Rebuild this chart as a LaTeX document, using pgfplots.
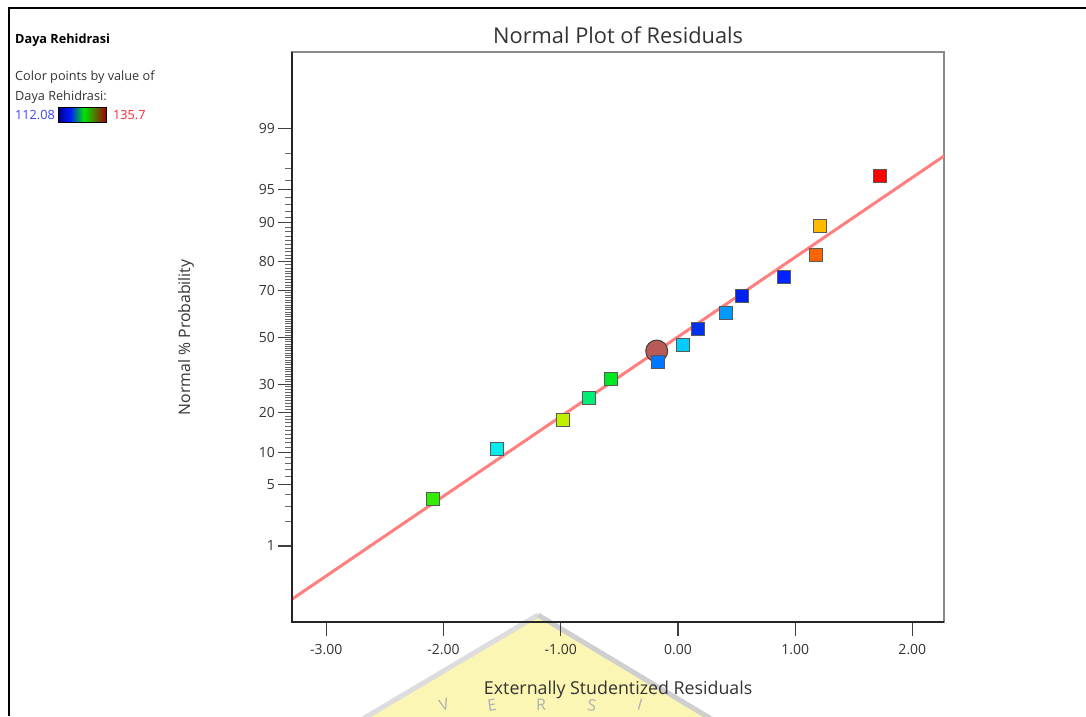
\documentclass[border=0pt]{standalone}
\usepackage{fontspec}
\setmainfont{Open Sans}
\usepackage{pgfplots}
\pgfplotsset{compat=1.18}
\usepackage{pgfplotstable}

\definecolor{txt}{HTML}{333333}
\definecolor{axgray}{HTML}{8A8A8A}
\definecolor{fitline}{HTML}{FF7F7F}
\definecolor{selpt}{HTML}{B85A57}
\definecolor{lowval}{HTML}{3344FF}
\definecolor{highval}{HTML}{FF2233}
\definecolor{wmyellow}{HTML}{FCF6B4}
\definecolor{wmgray}{HTML}{CFCFCF}
% point colours by response value
\definecolor{k0}{RGB}{51,238,0}
\definecolor{k1}{RGB}{0,238,238}
\definecolor{k2}{RGB}{190,240,0}
\definecolor{k3}{RGB}{0,238,119}
\definecolor{k4}{RGB}{0,232,34}
\definecolor{k5}{RGB}{0,119,255}
\definecolor{k6}{RGB}{0,204,255}
\definecolor{k7}{RGB}{0,51,238}
\definecolor{k8}{RGB}{0,153,255}
\definecolor{k9}{RGB}{0,34,238}
\definecolor{k10}{RGB}{0,34,255}
\definecolor{k11}{RGB}{255,102,0}
\definecolor{k12}{RGB}{255,187,0}
\definecolor{k13}{RGB}{255,0,0}

% residuals (x) against normal quantiles of (i-0.5)/14 (z), c = colour class
\pgfplotstableread{
x       z        c
-2.087  -1.8027  k0
-1.546  -1.2419  k1
-0.980  -0.9208  k2
-0.756  -0.6745  k3
-0.573  -0.4637  k4
-0.172  -0.2719  k5
 0.041  -0.0896  k6
 0.174   0.0896  k7
 0.413   0.2719  k8
 0.544   0.4637  k9
 0.908   0.6745  k10
 1.178   0.9208  k11
 1.215   1.2419  k12
 1.724   1.8027  k13
}\resid

\begin{document}
\begin{tikzpicture}
\path[use as bounding box] (0pt,0pt) rectangle (1086pt,-716pt);

% faint logo watermark at the bottom
\begin{scope}
\clip (0pt,0pt) rectangle (1086pt,-716pt);
\fill[wmyellow] (538pt,-615pt) -- (361pt,-720pt) -- (713pt,-720pt) -- cycle;
\draw[wmgray!70, line width=5pt] (361pt,-720pt) -- (538pt,-615pt);
\draw[wmgray, line width=5pt] (538pt,-615pt) -- (713pt,-720pt);
\begin{scope}[every node/.style={text=wmgray!85!black, inner sep=0pt, font=\fontsize{16}{18}\selectfont}]
\node[rotate=16]  at (444pt,-705pt) {V};
\node[rotate=8]   at (492pt,-705pt) {E};
\node[rotate=0]   at (541pt,-705pt) {R};
\node[rotate=-8]  at (592pt,-705pt) {S};
\node[rotate=-16] at (640pt,-705pt) {I};
\end{scope}
\end{scope}

% outer frame
\draw[black, line width=2pt] (9pt,-716pt) -- (9pt,-8pt) -- (1086pt,-8pt);

% colour key
\begin{scope}[every node/.style={anchor=west, inner sep=0pt, text=txt, font=\fontsize{12.7}{14}\selectfont}]
\node[font=\fontsize{12.7}{14}\selectfont\bfseries, text=black] at (15pt,-40.5pt) {Daya Rehidrasi};
\node at (15pt,-77pt) {Color points by value of};
\node at (15pt,-97pt) {Daya Rehidrasi:};
\node[text=lowval] at (15pt,-114.5pt) {112.08};
\node[text=highval] at (113pt,-114.5pt) {135.7};
\end{scope}
\shade[left color=blue!55!black, right color=blue!90!cyan] (58pt,-107pt) rectangle (70pt,-122.5pt);
\shade[left color=blue!90!cyan, right color=green!90!black] (70pt,-107pt) rectangle (84pt,-122.5pt);
\shade[left color=green!90!black, right color=red!65!black] (84pt,-107pt) rectangle (106pt,-122.5pt);
\draw[black, line width=0.8pt] (58pt,-107pt) rectangle (106pt,-122.5pt);

\begin{axis}[
  at={(292.3pt,-622.3pt)}, anchor=south west,
  scale only axis, width=651.7pt, height=570pt,
  xmin=-3.29, xmax=2.27, ymin=-3.177, ymax=3.177,
  axis line style={draw=axgray, line width=1.8pt},
  xtick={-3,-2,-1,0,1,2},
  xticklabels={-3.00,-2.00,-1.00,0.00,1.00,2.00},
  ytick={-2.3263,-1.6449,-1.2816,-0.8416,-0.5244,0,0.5244,0.8416,1.2816,1.6449,2.3263},
  yticklabels={1,5,10,20,30,50,70,80,90,95,99},
  minor ytick={-2.0537,-1.8808,-1.7507,
    -1.5548,-1.4758,-1.4051,-1.3408,
    -1.2265,-1.1750,-1.1264,-1.0803,-1.0364,-0.9945,-0.9542,-0.9154,-0.8779,
    -0.8064,-0.7722,-0.7388,-0.7063,-0.6745,-0.6433,-0.6128,-0.5828,-0.5534,
    -0.4959,-0.4677,-0.4399,-0.4125,-0.3853,-0.3585,-0.3319,-0.3055,-0.2793,-0.2533,
    -0.2275,-0.2019,-0.1764,-0.1510,-0.1257,-0.1004,-0.0753,-0.0502,-0.0251,
    0.0251,0.0502,0.0753,0.1004,0.1257,0.1510,0.1764,0.2019,0.2275,
    0.2533,0.2793,0.3055,0.3319,0.3585,0.3853,0.4125,0.4399,0.4677,0.4959,
    0.5534,0.5828,0.6128,0.6433,0.6745,0.7063,0.7388,0.7722,0.8064,
    0.8779,0.9154,0.9542,0.9945,1.0364,1.0803,1.1264,1.1750,1.2265,
    1.3408,1.4051,1.4758,1.5548,
    1.7507,1.8808,2.0537},
  xtick pos=bottom, ytick pos=left, tick align=outside,
  major tick length=14pt, minor tick length=7pt,
  major tick style={draw=black!75, line width=1.2pt},
  minor tick style={draw=black!60, line width=1pt},
  tick label style={font=\fontsize{14}{16}\selectfont, text=txt},
  xticklabel style={yshift=-4pt},
  every axis title shift=0pt,
  title={Normal Plot of Residuals},
  title style={at={(axis description cs:0.5,1.0304)}, anchor=center,
    font=\fontsize{21.8}{24}\selectfont, text=txt},
  xlabel={Externally Studentized Residuals},
  xlabel style={at={(axis description cs:0.5,-0.1188)}, anchor=center,
    font=\fontsize{17.8}{20}\selectfont, text=txt},
  ylabel={Normal \% Probability},
  ylabel style={at={(axis description cs:-0.1631,0.5)}, anchor=center,
    font=\fontsize{15.8}{18}\selectfont, text=txt},
]
% fitted normal line
\addplot[no marks, draw=fitline, line width=3pt] coordinates {(-3.29,-2.917) (2.27,2.021)};
% highlighted run
\addplot[only marks, mark=*, mark size=11pt,
  mark options={fill=selpt, draw=black!75, line width=1pt}] coordinates {(-0.181,-0.153)};
% residual points coloured by response value
\addplot[scatter, only marks, mark=square*, mark size=6.5pt,
  point meta=explicit symbolic,
  scatter/classes={
    k0={fill=k0}, k1={fill=k1}, k2={fill=k2}, k3={fill=k3}, k4={fill=k4},
    k5={fill=k5}, k6={fill=k6}, k7={fill=k7}, k8={fill=k8}, k9={fill=k9},
    k10={fill=k10}, k11={fill=k11}, k12={fill=k12}, k13={fill=k13}},
  mark options={draw=black!65, line width=1pt}] table[x=x, y=z, meta=c] {\resid};
\end{axis}
% bottom and left axis lines are darker than the top and right ones
\draw[black!85, line width=1.8pt] (292.3pt,-52.3pt) -- (292.3pt,-622.3pt) -- (944pt,-622.3pt);
\end{tikzpicture}
\end{document}
